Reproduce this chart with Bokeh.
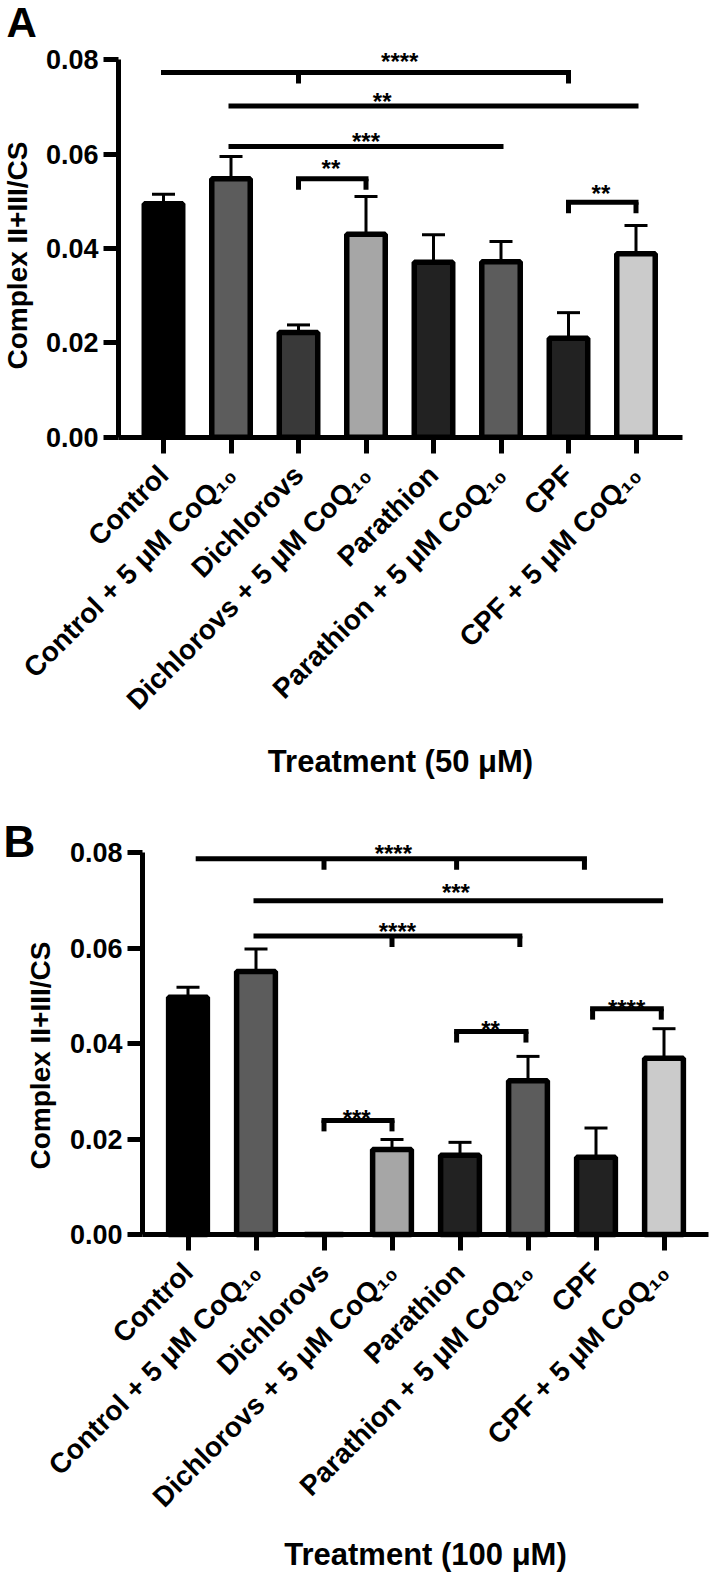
from math import pi
import numpy as np
from bokeh.plotting import figure
from bokeh.layouts import column
from bokeh.models import Range1d, FixedTicker, Label, ColumnDataSource, NumeralTickFormatter
from bokeh.embed import file_html
from bokeh.resources import INLINE
from bokeh.core.properties import value

# ---------------- data ----------------
categories = ["Control", "Control + 5 μM CoQ₁₀", "Dichlorovs", "Dichlorovs + 5 μM CoQ₁₀",
              "Parathion", "Parathion + 5 μM CoQ₁₀", "CPF", "CPF + 5 μM CoQ₁₀"]
bar_colors = ["#000000", "#5c5c5c", "#393939", "#a6a6a6", "#222222", "#5c5c5c", "#222222", "#cbcbcb"]

mean_50 = [0.0495, 0.0548, 0.0222, 0.0430, 0.0371, 0.0372, 0.0210, 0.0389]
err_50 = [0.0020, 0.0047, 0.0016, 0.0080, 0.0058, 0.0043, 0.0054, 0.0060]

mean_100 = [0.0497, 0.0551, 0.0, 0.0178, 0.0166, 0.0322, 0.0162, 0.0369]
err_100 = [0.0021, 0.0047, 0.0, 0.0021, 0.0027, 0.0051, 0.0061, 0.0062]

y_ticks = [0.0, 0.02, 0.04, 0.06, 0.08]
y_title = "Complex II+III/CS"
x_title_50 = "Treatment (50 μM)"
x_title_100 = "Treatment (100 μM)"

# significance brackets (category index positions, y level, drop positions, label)
sig_50_label = ["****", "**", "***", "**", "**"]
sig_50_x0 = [0, 1, 1, 2, 6]
sig_50_x1 = [6, 7, 5, 3, 7]
sig_50_y = [0.0773, 0.0702, 0.0616, 0.0548, 0.0498]
sig_50_drops = [[2, 6], [], [], [2, 3], [6, 7]]
sig_50_text_x = [3.5, 3.24, 3.0, 2.48, 6.48]
sig_50_text_y = [0.0807, 0.0723, 0.0637, 0.0580, 0.0527]

sig_100_label = ["****", "***", "****", "***", "**", "****"]
sig_100_x0 = [0.15, 1, 1, 2, 3.95, 5.95]
sig_100_x1 = [5.83, 6.95, 4.88, 3, 4.97, 6.96]
sig_100_y = [0.0787, 0.0699, 0.0625, 0.0239, 0.0425, 0.0473]
sig_100_drops = [[2, 3.95, 5.83], [], [3, 4.88], [2, 3], [3.95, 4.97], [5.95, 6.96]]
sig_100_text_x = [3.02, 3.94, 3.08, 2.48, 4.45, 6.45]
sig_100_text_y = [0.0808, 0.0727, 0.0644, 0.0254, 0.0440, 0.0484]

FONT = "Liberation Sans"
W = 711


def make_panel(letter, means, errs, s_lab, s_x0, s_x1, s_y, s_drops, s_tx, s_ty, xtitle,
               fig_h, x0_px, dx_px, y0_px, dy_px, axis_x_lo, axis_x_hi,
               letter_px, letter_size, ylab_px, xlab_px):
    # scale: category i sits at x0_px + dx_px*i ; value v at y0_px - dy_px*v (pixels in this canvas)
    xs = -x0_px / dx_px
    xe = (W - x0_px) / dx_px
    ye = y0_px / dy_px
    ys = -(fig_h - y0_px) / dy_px
    p = figure(width=W, height=fig_h, x_range=Range1d(xs, xe), y_range=Range1d(ys, ye),
               output_backend="svg", toolbar_location=None, title=None,
               min_border_left=0, min_border_right=0, min_border_top=0, min_border_bottom=0)
    p.grid.visible = False
    p.outline_line_color = None

    def dx(px):
        return (px - x0_px) / dx_px

    def dy(px):
        return (y0_px - px) / dy_px

    idx = np.arange(len(categories))
    src = ColumnDataSource(dict(x=idx, top=means, color=bar_colors))
    p.vbar(x="x", top="top", width=0.57, bottom=0, fill_color="color", line_color="black",
           line_width=5.5, source=src)

    m = np.array(means)
    e = np.array(errs)
    keep = e > 0
    cap_half = 11.5 / dx_px
    p.segment(x0=idx[keep], y0=m[keep], x1=idx[keep], y1=(m + e)[keep], line_color="black", line_width=3)
    p.segment(x0=idx[keep] - cap_half, y0=(m + e)[keep], x1=idx[keep] + cap_half, y1=(m + e)[keep],
              line_color="black", line_width=3)

    drop = 11 / dy_px
    p.segment(x0=s_x0, y0=s_y, x1=s_x1, y1=s_y, line_color="black", line_width=5, line_cap="square")
    tx, ty0, ty1 = [], [], []
    for xv_list, yy in zip(s_drops, s_y):
        for xv in xv_list:
            tx.append(xv)
            ty0.append(yy)
            ty1.append(yy - drop)
    p.segment(x0=tx, y0=ty0, x1=tx, y1=ty1, line_color="black", line_width=5)
    p.text(x=s_tx, y=s_ty, text=s_lab, text_font=value(FONT), text_font_style="bold",
           text_font_size="24px", text_align="center", text_baseline="middle", text_color="black",
           y_offset=5)

    # axes (drawn at fixed data locations)
    xa = p.xaxis[0]
    xa.fixed_location = 0
    xa.bounds = (axis_x_lo, axis_x_hi)
    xa.ticker = FixedTicker(ticks=list(range(len(categories))))
    xa.major_label_overrides = {i: c for i, c in enumerate(categories)}
    xa.major_label_orientation = pi / 4
    xa.major_label_text_font = FONT
    xa.major_label_text_font_style = "bold"
    xa.major_label_text_font_size = "28px"
    xa.major_label_text_color = "black"
    xa.major_label_standoff = 17
    xa.axis_line_width = 5
    xa.axis_line_color = "black"
    xa.major_tick_line_width = 5
    xa.major_tick_line_color = "black"
    xa.major_tick_out = 16
    xa.major_tick_in = 0
    xa.minor_tick_line_color = None

    ya = p.yaxis[0]
    ya.fixed_location = axis_x_lo
    ya.bounds = (0, 0.08)
    ya.ticker = FixedTicker(ticks=y_ticks)
    ya.formatter = NumeralTickFormatter(format="0.00")
    ya.major_label_text_font = FONT
    ya.major_label_text_font_style = "bold"
    ya.major_label_text_font_size = "27px"
    ya.major_label_text_color = "black"
    ya.major_label_standoff = 5
    ya.axis_line_width = 5
    ya.axis_line_color = "black"
    ya.major_tick_line_width = 5
    ya.major_tick_line_color = "black"
    ya.major_tick_out = 15
    ya.major_tick_in = 0
    ya.minor_tick_line_color = None

    # titles
    p.add_layout(Label(x=dx(ylab_px[0]), y=dy(ylab_px[1]), text=y_title, angle=pi / 2,
                       text_font=FONT, text_font_style="bold", text_font_size="28px",
                       text_align="center", text_baseline="alphabetic", text_color="black"))
    p.add_layout(Label(x=dx(xlab_px[0]), y=dy(xlab_px[1]), text=xtitle,
                       text_font=FONT, text_font_style="bold", text_font_size="31px",
                       text_align="center", text_baseline="alphabetic", text_color="black"))
    p.add_layout(Label(x=dx(letter_px[0]), y=dy(letter_px[1]), text=letter,
                       text_font=FONT, text_font_style="bold", text_font_size=letter_size,
                       text_align="left", text_baseline="alphabetic", text_color="black"))
    return p


pA = make_panel("A", mean_50, err_50, sig_50_label, sig_50_x0, sig_50_x1, sig_50_y, sig_50_drops,
                sig_50_text_x, sig_50_text_y, x_title_50,
                fig_h=800, x0_px=163, dx_px=67.5, y0_px=436.7, dy_px=4717.5,
                axis_x_lo=-0.667, axis_x_hi=7.689,
                letter_px=(6, 22), letter_size="42px", ylab_px=(17, 255), xlab_px=(400, 760.5))
pB = make_panel("B", mean_100, err_100, sig_100_label, sig_100_x0, sig_100_x1, sig_100_y, sig_100_drops,
                sig_100_text_x, sig_100_text_y, x_title_100,
                fig_h=774, x0_px=187.5, dx_px=68.0, y0_px=434, dy_px=4775,
                axis_x_lo=-0.669, axis_x_hi=7.654,
                letter_px=(3, 40.5), letter_size="44px", ylab_px=(40, 255), xlab_px=(425, 753.5))

layout = column(pA, pB, spacing=0)
open("out.html", "w").write(file_html(layout, INLINE))
